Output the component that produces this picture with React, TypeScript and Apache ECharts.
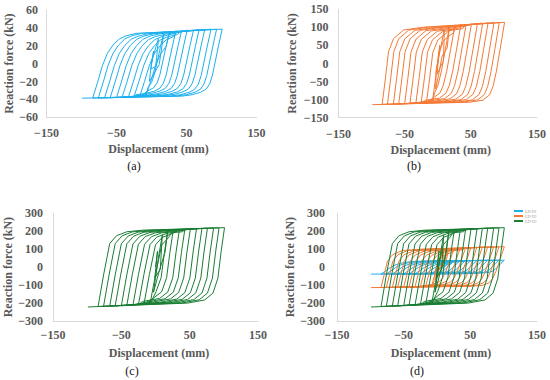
import React, { useEffect, useRef } from "react";
import * as echarts from "echarts";

// Displacement protocol (mm): positive / negative peaks of each cycle
const DISP_POS = [3, 10, 18, 26, 35, 43, 51, 60, 68, 76, 85, 93, 101];
const DISP_NEG = [-1, -3, -8, -17, -25, -33, -42, -50, -59, -67, -76, -84, -99];

// Peak reaction forces (kN) at those peaks
const A_POS_F = [14, 28, 36, 36.5, 37, 37, 37.5, 37.5, 38, 38, 38.5, 38.5, 38.6];
const A_NEG_F = [-6, -20, -36, -37, -37, -37.5, -37.5, -38, -38, -38, -38.5, -38.5, -38.6];
const B_POS_F = [50, 95, 106, 107, 108, 109, 110, 111, 112, 112, 113, 113, 114];
const B_NEG_F = [-30, -70, -105, -107, -108, -109, -110, -111, -112, -112, -113, -113, -114];
const C_POS_F = [90, 180, 205, 208, 210, 212, 213, 215, 216, 217, 218, 219, 220];
const C_NEG_F = [-60, -140, -205, -208, -210, -212, -213, -215, -216, -217, -218, -219, -222];

// Branch shapes read from the outermost loop: distance from turning point (mm) and force / peak force
const A_UNLOAD_DX = [0, 5, 10, 14, 18, 23, 31, 43, 57];
const A_UNLOAD_F = [1, 0.54, 0.05, -0.34, -0.59, -0.74, -0.83, -0.9, -0.94];
const A_LOAD_DX = [0, 7, 14, 21, 29, 38, 48, 62];
const A_LOAD_F = [-1, -0.54, -0.05, 0.3, 0.54, 0.72, 0.81, 0.88];

const B_UNLOAD_DX = [0, 6.5, 12.5, 17.5, 22.6, 32.6, 53];
const B_UNLOAD_F = [1, 0.37, -0.2, -0.56, -0.76, -0.89, -0.94];
const B_LOAD_DX = [0, 5, 9.6, 17.2, 32.3, 62.5];
const B_LOAD_F = [-1, -0.35, 0.29, 0.61, 0.82, 0.89];

const C_UNLOAD_DX = [0, 5, 9.7, 17, 29, 54];
const C_UNLOAD_F = [1, 0.39, -0.28, -0.66, -0.83, -0.91];
const C_LOAD_DX = [0, 8, 17, 27, 42, 65];
const C_LOAD_F = [-1, -0.2, 0.6, 0.8, 0.9, 0.94];

const SERIES_NAMES = ["LD-H1", "LD-H2", "LD-H3"];
const COLORS = ["#1cb0ee", "#f47a36", "#1a7d33"];
const CAPTIONS = ["(a)", "(b)", "(c)", "(d)"];
const X_MIN = -150;
const X_MAX = 150;
const X_STEP = 100;
const Y_RANGES = [
  [-60, 60, 20],
  [-150, 150, 50],
  [-300, 300, 100],
  [-300, 300, 100],
];

function addBranch(
  out: number[][],
  x0: number,
  f0: number,
  x1: number,
  f1: number,
  dxs: number[],
  fs: number[]
) {
  const span = Math.abs(x1 - x0);
  const dir = Math.sign(x1 - x0);
  const mag = Math.abs(f0);
  for (let j = 1; j < dxs.length; j++) {
    if (dxs[j] >= span) break;
    out.push([x0 + dir * dxs[j], fs[j] * mag]);
  }
  out.push([x1, f1]);
}

function buildLoops(
  posF: number[],
  negF: number[],
  uDx: number[],
  uF: number[],
  lDx: number[],
  lF: number[]
) {
  const pts: number[][] = [[0, 0]];
  for (let i = 0; i < DISP_POS.length; i++) {
    if (i === 0) pts.push([DISP_POS[0], posF[0]]);
    else addBranch(pts, DISP_NEG[i - 1], negF[i - 1], DISP_POS[i], posF[i], lDx, lF);
    addBranch(pts, DISP_POS[i], posF[i], DISP_NEG[i], negF[i], uDx, uF);
  }
  return pts;
}

export default function App() {
  const ref = useRef<HTMLDivElement>(null);
  useEffect(() => {
    if (!ref.current) return;
    const chart = echarts.init(ref.current, undefined, { renderer: "svg" });
    const dataA = buildLoops(A_POS_F, A_NEG_F, A_UNLOAD_DX, A_UNLOAD_F, A_LOAD_DX, A_LOAD_F);
    const dataB = buildLoops(B_POS_F, B_NEG_F, B_UNLOAD_DX, B_UNLOAD_F, B_LOAD_DX, B_LOAD_F);
    const dataC = buildLoops(C_POS_F, C_NEG_F, C_UNLOAD_DX, C_UNLOAD_F, C_LOAD_DX, C_LOAD_F);
    const allData = [dataA, dataB, dataC];

    const font = "'Liberation Serif', 'Times New Roman', serif";
    const grids = [
      { left: 46.5, top: 10, width: 210, height: 107.3 },
      { left: 338.5, top: 9.3, width: 198.5, height: 108.4 },
      { left: 53, top: 213.3, width: 205, height: 107.7 },
      { left: 337, top: 213.3, width: 200, height: 107.7 },
    ];
    const yGaps = [30, 41, 36, 40];
    const yMargins = [8.5, 10, 10, 12];
    const xShift = [14, 6, 7, 8];
    const xMargins = [10, 10, 8, 8];
    const fmt = (v: number) => String(v).replace("-", "\u2212");

    const xAxis = grids.map((_, i) => ({
      type: "value",
      gridIndex: i,
      min: X_MIN,
      max: X_MAX,
      interval: X_STEP,
      name: "Displacement (mm)",
      nameLocation: "middle",
      nameGap: 26,
      nameTextStyle: {
        fontFamily: font,
        fontWeight: "bold",
        fontSize: 12,
        color: "#595959",
        padding: [0, 0, 0, xShift[i]],
      },
      axisLine: { show: true, onZero: false, lineStyle: { color: "#d9d9d9", width: 1 } },
      axisTick: { show: false },
      splitLine: { show: false },
      axisLabel: {
        fontFamily: font,
        fontWeight: "bold",
        fontSize: 12,
        color: "#595959",
        margin: xMargins[i],
        formatter: fmt,
      },
    }));
    const yAxis = grids.map((_, i) => ({
      type: "value",
      gridIndex: i,
      min: Y_RANGES[i][0],
      max: Y_RANGES[i][1],
      interval: Y_RANGES[i][2],
      name: "Reaction force (kN)",
      nameLocation: "middle",
      nameRotate: 90,
      nameGap: yGaps[i],
      nameTextStyle: {
        fontFamily: font,
        fontWeight: "bold",
        fontSize: 12,
        color: "#595959",
      },
      axisLine: { show: true, onZero: false, lineStyle: { color: "#d9d9d9", width: 1 } },
      axisTick: { show: false },
      splitLine: { show: false },
      axisLabel: {
        fontFamily: font,
        fontWeight: "bold",
        fontSize: 12,
        color: "#595959",
        margin: yMargins[i],
        formatter: fmt,
      },
    }));

    const series: any[] = [];
    allData.forEach((d, k) => {
      series.push({
        type: "line",
        xAxisIndex: k,
        yAxisIndex: k,
        data: d,
        showSymbol: false,
        silent: true,
        lineStyle: { color: COLORS[k], width: 1 },
        itemStyle: { color: COLORS[k] },
      });
    });
    allData.forEach((d, k) => {
      series.push({
        type: "line",
        name: SERIES_NAMES[k],
        xAxisIndex: 3,
        yAxisIndex: 3,
        data: d,
        showSymbol: false,
        silent: true,
        lineStyle: { color: COLORS[k], width: 1 },
        itemStyle: { color: COLORS[k] },
      });
    });

    const capPos = [
      [134, 166],
      [414, 166],
      [132, 371],
      [417, 371],
    ];

    chart.setOption({
      animation: false,
      backgroundColor: "#ffffff",
      grid: grids,
      xAxis,
      yAxis,
      legend: {
        data: SERIES_NAMES,
        orient: "vertical",
        left: 514,
        top: 209,
        padding: 0,
        icon: "rect",
        itemWidth: 9,
        itemHeight: 2,
        itemGap: 1,
        textStyle: { fontSize: 4, color: "#9a9a9a", fontFamily: font, padding: [0, 0, 0, -3] },
        selectedMode: false,
      },
      graphic: CAPTIONS.map((c, i) => ({
        type: "text",
        x: capPos[i][0],
        y: capPos[i][1],
        style: {
          text: c,
          font: `12px ${font}`,
          fill: "#111",
          textAlign: "center",
          textVerticalAlign: "middle",
        },
      })),
      series,
    });
    return () => chart.dispose();
  }, []);
  return (
    <div
      ref={ref}
      style={{ position: "fixed", left: 0, top: 0, width: 550, height: 380, background: "#fff" }}
    />
  );
}
